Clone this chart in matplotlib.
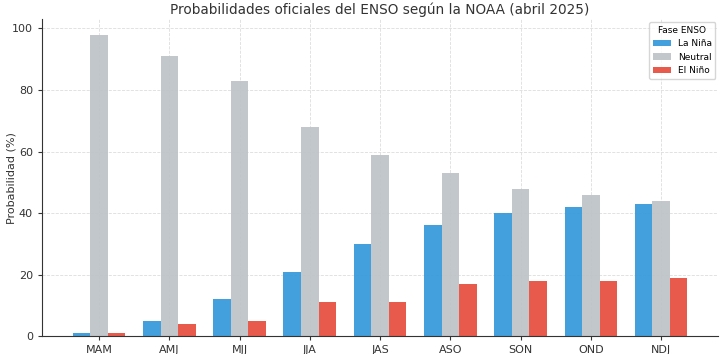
import matplotlib.pyplot as plt
import numpy as np

# Trimestres and probabilities (%)
seasons = ["MAM", "AMJ", "MJJ", "JJA", "JAS", "ASO", "SON", "OND", "NDJ"]
la_nina = [1, 5, 12, 21, 30, 36, 40, 42, 43]
neutral = [98, 91, 83, 68, 59, 53, 48, 46, 44]
el_nino = [1, 4, 5, 11, 11, 17, 18, 18, 19]

x = np.arange(len(seasons))
w = 0.25

fig, ax = plt.subplots(figsize=(7.24, 3.54), dpi=100)
ax.bar(x - w, la_nina, w, label="La Niña", color="#3498db", alpha=0.92)
ax.bar(x, neutral, w, label="Neutral", color="#bdc3c7", alpha=0.92)
ax.bar(x + w, el_nino, w, label="El Niño", color="#e74c3c", alpha=0.92)

ax.set_xticks(x)
ax.set_xticklabels(seasons, fontsize=8, color="#333333")
ax.tick_params(axis="y", labelsize=8, colors="#333333")
ax.tick_params(axis="both", length=3, color="#333333")
ax.set_ylabel("Probabilidad (%)", fontsize=8, color="#333333")
ax.yaxis.set_label_coords(-0.038, 0.5)
ax.set_title("Probabilidades oficiales del ENSO según la NOAA (abril 2025)",
             fontsize=9.8, color="#333333", pad=4)

ax.grid(True, linestyle="--", linewidth=0.6, color="#dddddd")
ax.set_axisbelow(True)
for s in ["top", "right"]:
    ax.spines[s].set_visible(False)
for s in ["left", "bottom"]:
    ax.spines[s].set_color("#333333")

leg = ax.legend(title="Fase ENSO", fontsize=6.5, title_fontsize=6.5, loc="upper right",
                frameon=True, borderaxespad=0.3)
leg.get_frame().set_edgecolor("#cccccc")

plt.subplots_adjust(left=0.058, right=0.992, top=0.945, bottom=0.05)
plt.savefig("out.png", dpi=100)
